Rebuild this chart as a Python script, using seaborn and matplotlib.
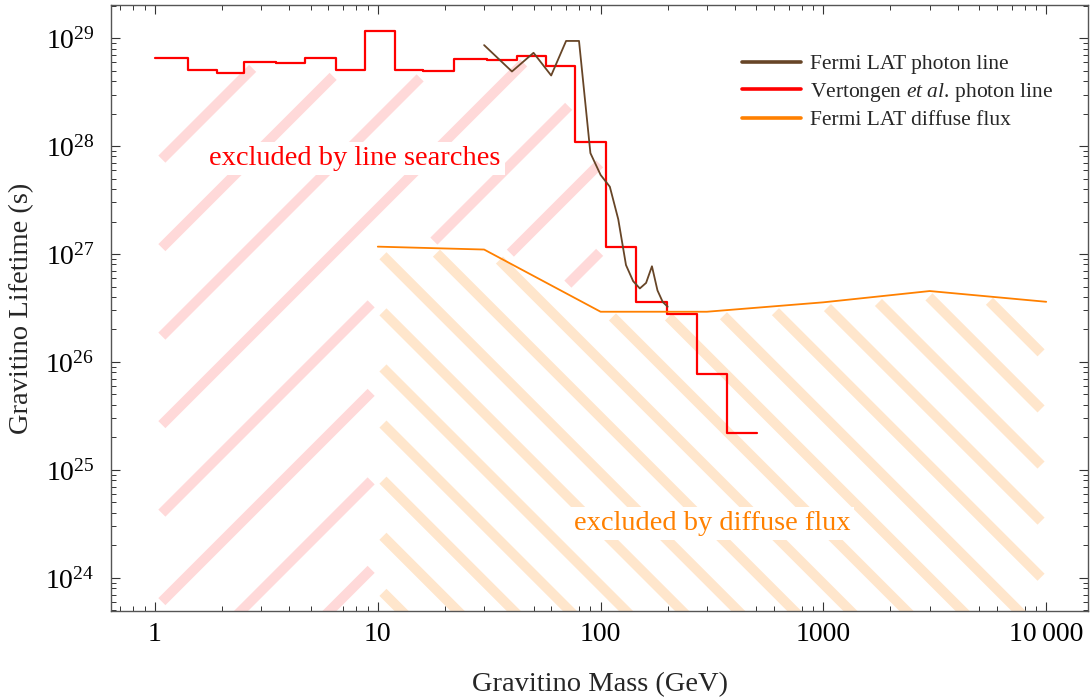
import numpy as np
import matplotlib
matplotlib.use("Agg")
import matplotlib.pyplot as plt
import seaborn as sns
from matplotlib.path import Path
from matplotlib.ticker import FixedLocator, FixedFormatter, LogLocator, NullFormatter

# Vertongen et al. photon line: bin edges (GeV) and lifetime bound per bin (s)
vert_edges = [1.0, 1.4, 1.9, 2.5, 3.5, 4.7, 6.5, 8.8, 12, 16, 22, 31, 42, 57,
              77, 106, 144, 198, 270, 368, 502]
vert_tau = [6.5e28, 5.05e28, 4.77e28, 6.04e28, 5.87e28, 6.49e28, 5.09e28,
            1.17e29, 5.05e28, 4.95e28, 6.39e28, 6.25e28, 6.81e28, 5.54e28,
            1.1e28, 1.17e27, 3.57e26, 2.78e26, 7.69e25, 2.19e25]

# Fermi LAT photon line
fermi_line_m = [30, 40, 50, 60, 70, 80, 90, 100, 110, 120, 130, 140, 150,
                160, 170, 180, 190, 200]
fermi_line_tau = [8.6e28, 4.9e28, 7.3e28, 4.5e28, 9.4e28, 9.4e28, 8.6e27,
                  5.4e27, 4.2e27, 2.1e27, 7.9e26, 5.6e26, 4.8e26, 5.4e26,
                  7.7e26, 4.6e26, 3.6e26, 3.25e26]

# Fermi LAT diffuse flux
diffuse_m = [10, 30, 100, 300, 1000, 3000, 10000]
diffuse_tau = [1.17e27, 1.1e27, 2.92e26, 2.92e26, 3.57e26, 4.54e26, 3.61e26]

xtick_vals = [1, 10, 100, 1000, 10000]
xtick_labels = ["1", "10", "100", "1000", "10\u2009000"]
ytick_exp = [24, 25, 26, 27, 28, 29]

sns.set_theme(style="ticks")
plt.rcParams["font.family"] = ["Liberation Serif", "DejaVu Serif"]
plt.rcParams["mathtext.fontset"] = "custom"
plt.rcParams["mathtext.rm"] = "Liberation Serif"
plt.rcParams["mathtext.it"] = "Liberation Serif:italic"

BROWN = "#674527"
RED = "#ff0000"
ORANGE = "#ff8000"

fig = plt.figure(figsize=(10.91, 6.98), dpi=100)
ax = fig.add_axes([111 / 1091, 1 - 611 / 698, 977 / 1091, 606 / 698])
ax.set_xscale("log")
ax.set_yscale("log")

sns.lineplot(x=fermi_line_m, y=fermi_line_tau, color=BROWN, lw=1.3,
             estimator=None, errorbar=None, ax=ax, zorder=4)
l_fermi = ax.lines[-1]
sns.lineplot(x=vert_edges, y=vert_tau + [vert_tau[-1]], color=RED, lw=1.6,
             drawstyle="steps-post", estimator=None, errorbar=None, ax=ax, zorder=3)
l_vert = ax.lines[-1]
sns.lineplot(x=diffuse_m, y=diffuse_tau, color=ORANGE, lw=1.3,
             estimator=None, errorbar=None, ax=ax, zorder=3)
l_diff = ax.lines[-1]

ax.set_xlim(10 ** -0.1975, 10 ** 4.1876)
ax.set_ylim(10 ** 23.694, 10 ** 29.306)

# regions (data coords), bottom far below the axis
low = 1e20
red_poly = [(vert_edges[0], low)]
for i, t in enumerate(vert_tau):
    red_poly += [(vert_edges[i], t), (vert_edges[i + 1], t)]
red_poly += [(vert_edges[-1], low)]
orange_poly = [(diffuse_m[0], low)] + list(zip(diffuse_m, diffuse_tau)) + [(diffuse_m[-1], low)]

red_path = Path(ax.transData.transform(red_poly))
orange_path = Path(ax.transData.transform(orange_poly))


def in_pink(p):
    return red_path.contains_points(p) & ~orange_path.contains_points(p)


def in_orange(p):
    return orange_path.contains_points(p)


def stripes(inside, sign, c0, step, color, lw, trim, min_len=14):
    # 45 degree stripes in pixel space: y = sign * x + c
    bb = ax.bbox
    xs = np.arange(bb.x0 - 60, bb.x1 + 60, 0.5)
    inv = ax.transData.inverted()
    cs = np.arange(c0 - 40 * step, c0 + 40 * step, step)
    for c in cs:
        ys = sign * xs + c
        ok = (ys > bb.y0 - 60) & (ys < bb.y1 + 60)
        if ok.sum() < 2:
            continue
        px = np.column_stack([xs[ok], ys[ok]])
        mask = inside(px)
        idx = np.flatnonzero(np.diff(np.concatenate([[0], mask.astype(int), [0]])))
        for a, b in zip(idx[::2], idx[1::2] - 1):
            d = trim / np.sqrt(2)
            x0, x1 = px[a, 0] + d, px[b, 0] - d
            if (x1 - x0) * np.sqrt(2) < min_len:
                continue
            seg = inv.transform([[x0, sign * x0 + c], [x1, sign * x1 + c]])
            ax.plot(seg[:, 0], seg[:, 1], color=color, lw=lw,
                    solid_capstyle="butt", zorder=1)


stripes(in_pink, 1, 200.0, 88.5, "#ffd9d9", 7.2, 9)
stripes(in_orange, -1, 656.9, 56.1, "#ffe6cc", 7.2, 7)

bbox = dict(facecolor="white", edgecolor="none", pad=3)
ax.text(7.9, 7.7e27, "excluded by line searches", color=RED, fontsize=20.5,
        ha="center", va="center", bbox=bbox, zorder=2)
ax.text(316, 3.2e24, "excluded by diffuse flux", color=ORANGE, fontsize=20.5,
        ha="center", va="center", bbox=bbox, zorder=2)

ax.legend([l_fermi, l_vert, l_diff],
          ["Fermi LAT photon line", r"Vertongen $\mathit{et\ al.}\,$photon line",
           "Fermi LAT diffuse flux"],
          loc="upper right", bbox_to_anchor=(0.964, 0.919), frameon=False,
          borderpad=0, borderaxespad=0, handlelength=2.7, handletextpad=0.42,
          labelspacing=0.3, fontsize=15.5)
for h in ax.get_legend().get_lines():
    h.set_linewidth(2.6)

ax.xaxis.set_major_locator(FixedLocator(xtick_vals))
ax.xaxis.set_major_formatter(FixedFormatter(xtick_labels))
ax.xaxis.set_minor_locator(LogLocator(subs=np.arange(2, 10), numticks=50))
ax.xaxis.set_minor_formatter(NullFormatter())
ax.yaxis.set_major_locator(FixedLocator([10.0 ** e for e in ytick_exp]))
ax.yaxis.set_major_formatter(FixedFormatter([r"$10^{%d}$" % e for e in ytick_exp]))
ax.yaxis.set_minor_locator(LogLocator(subs=np.arange(2, 10), numticks=50))
ax.yaxis.set_minor_formatter(NullFormatter())

ax.tick_params(which="both", direction="in", top=True, right=True, color="#333333")
ax.tick_params(which="major", length=6.5, width=0.8, labelsize=20, labelcolor="black")
ax.tick_params(which="minor", length=3.6, width=0.7)
ax.tick_params(axis="x", which="major", pad=8)
ax.tick_params(axis="y", which="major", pad=12)
for s in ax.spines.values():
    s.set_color("#555555")
    s.set_linewidth(1.0)

ax.set_xlabel("Gravitino Mass (GeV)", fontsize=20.5, labelpad=18)
ax.set_ylabel("Gravitino Lifetime (s)", fontsize=20.5, labelpad=8)

fig.savefig("out.png", dpi=100)
